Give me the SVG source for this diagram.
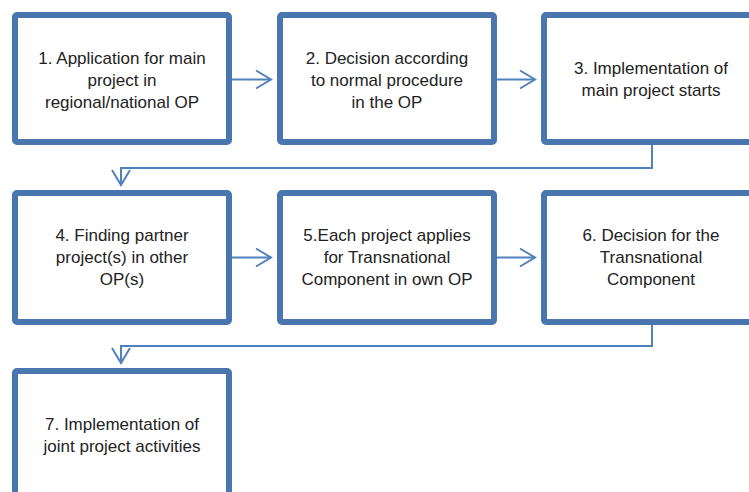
<svg xmlns="http://www.w3.org/2000/svg" width="749" height="492" viewBox="0 0 749 492">
<style>
.box{fill:#fff;stroke:#4A76B0;stroke-width:6}
.t{font-family:"Liberation Sans",Arial,sans-serif;font-size:17px;fill:#222;text-anchor:middle}
.c{fill:none;stroke:#4F81BD;stroke-width:2}
</style>
<defs>
<marker id="ah" markerWidth="20" markerHeight="22" refX="15" refY="9" orient="auto" markerUnits="userSpaceOnUse" overflow="visible">
<path d="M0,0 L15,9 L0,18" fill="none" stroke="#4F81BD" stroke-width="2"/>
</marker>
</defs>
<rect width="749" height="492" fill="#fff"/>
<g id="connectors">
<path class="c" d="M232,79.5 H271" marker-end="url(#ah)"/>
<path class="c" d="M497,79.5 H535" marker-end="url(#ah)"/>
<path class="c" d="M652,145 V168 H121 V185" marker-end="url(#ah)"/>
<path class="c" d="M232,257.5 H271" marker-end="url(#ah)"/>
<path class="c" d="M497,257.5 H535" marker-end="url(#ah)"/>
<path class="c" d="M652,325 V346 H121 V363" marker-end="url(#ah)"/>
</g>
<g id="n1">
<rect class="box" x="15" y="15" width="214" height="127" rx="2"/>
<text class="t" x="122" y="64">1. Application for main</text>
<text class="t" x="122" y="86">project in</text>
<text class="t" x="122" y="108">regional/national OP</text>
</g>
<g id="n2">
<rect class="box" x="280" y="15" width="214" height="127" rx="2"/>
<text class="t" x="387" y="64">2. Decision according</text>
<text class="t" x="387" y="86">to normal procedure</text>
<text class="t" x="387" y="108">in the OP</text>
</g>
<g id="n3">
<rect class="box" x="544" y="15" width="214" height="127" rx="2"/>
<text class="t" x="651" y="74">3. Implementation of</text>
<text class="t" x="651" y="96">main project starts</text>
</g>
<g id="n4">
<rect class="box" x="15" y="193" width="214" height="129" rx="2"/>
<text class="t" x="122" y="241">4. Finding partner</text>
<text class="t" x="122" y="263">project(s) in other</text>
<text class="t" x="122" y="285">OP(s)</text>
</g>
<g id="n5">
<rect class="box" x="280" y="193" width="214" height="129" rx="2"/>
<text class="t" x="387" y="241">5.Each project applies</text>
<text class="t" x="387" y="263">for Transnational</text>
<text class="t" x="387" y="285">Component in own OP</text>
</g>
<g id="n6">
<rect class="box" x="544" y="193" width="214" height="129" rx="2"/>
<text class="t" x="651" y="241">6. Decision for the</text>
<text class="t" x="651" y="263">Transnational</text>
<text class="t" x="651" y="285">Component</text>
</g>
<g id="n7">
<rect class="box" x="15" y="371" width="214" height="135" rx="2"/>
<text class="t" x="122" y="430">7. Implementation of</text>
<text class="t" x="122" y="452">joint project activities</text>
</g>
</svg>
